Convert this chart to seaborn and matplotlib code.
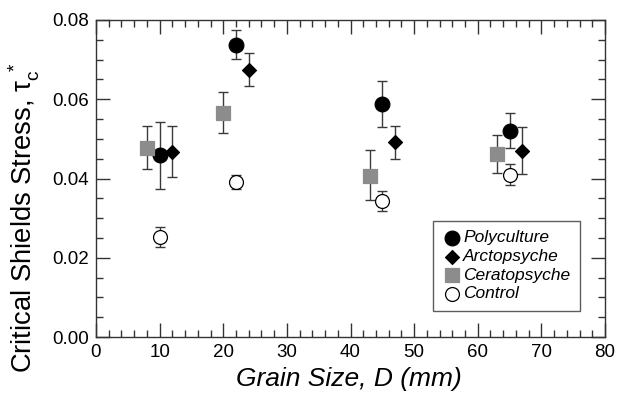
import numpy as np
import pandas as pd
import matplotlib
matplotlib.use("Agg")
import matplotlib.pyplot as plt
from matplotlib.ticker import MultipleLocator, FormatStrFormatter
import seaborn as sns

# Critical Shields stress by grain size for each treatment
poly_d = [10, 22, 45, 65]
poly_tau = [0.0459, 0.0737, 0.0589, 0.0521]
poly_lo = [0.0374, 0.0701, 0.0531, 0.0476]
poly_hi = [0.0542, 0.0774, 0.0647, 0.0566]

arcto_d = [12, 24, 47, 67]
arcto_tau = [0.0468, 0.0674, 0.0493, 0.0470]
arcto_lo = [0.0403, 0.0634, 0.0449, 0.0412]
arcto_hi = [0.0533, 0.0716, 0.0533, 0.0529]

cerato_d = [8, 20, 43, 63]
cerato_tau = [0.0478, 0.0565, 0.0407, 0.0463]
cerato_lo = [0.0424, 0.0514, 0.0346, 0.0413]
cerato_hi = [0.0532, 0.0618, 0.0472, 0.0510]

ctrl_d = [10, 22, 45, 65]
ctrl_tau = [0.0252, 0.0390, 0.0343, 0.0409]
ctrl_lo = [0.0227, 0.0373, 0.0318, 0.0383]
ctrl_hi = [0.0278, 0.0409, 0.0368, 0.0436]

groups = ["Polyculture", "Arctopsyche", "Ceratopsyche", "Control"]

frames = []
for name, d, t, lo, hi in [
    ("Polyculture", poly_d, poly_tau, poly_lo, poly_hi),
    ("Arctopsyche", arcto_d, arcto_tau, arcto_lo, arcto_hi),
    ("Ceratopsyche", cerato_d, cerato_tau, cerato_lo, cerato_hi),
    ("Control", ctrl_d, ctrl_tau, ctrl_lo, ctrl_hi),
]:
    frames.append(pd.DataFrame({"group": name, "D": d, "tau": t, "lo": lo, "hi": hi}))
df = pd.concat(frames, ignore_index=True)

sns.set_theme(style="ticks")
plt.rcParams["font.family"] = ["Liberation Sans", "DejaVu Sans"]
plt.rcParams["mathtext.fontset"] = "custom"
plt.rcParams["mathtext.rm"] = "Liberation Sans"
plt.rcParams["mathtext.it"] = "Liberation Sans:italic"
plt.rcParams["text.color"] = "black"
plt.rcParams["axes.labelcolor"] = "black"

fig = plt.figure(figsize=(6.18, 3.95), dpi=100)
ax = fig.add_axes([96 / 618, 1 - 337 / 395, (605 - 96) / 618, (337 - 20) / 395])

styles = {
    "Polyculture": dict(marker="o", color="black", edgecolor="black", s=112),
    "Arctopsyche": dict(marker="D", color="black", edgecolor="black", s=50),
    "Ceratopsyche": dict(marker="s", color="#8c8c8c", edgecolor="#8c8c8c", s=100),
    "Control": dict(marker="o", color="white", edgecolor="black", s=100),
}

for g in groups:
    sub = df[df["group"] == g]
    ax.errorbar(sub["D"], sub["tau"],
                yerr=[sub["tau"] - sub["lo"], sub["hi"] - sub["tau"]],
                fmt="none", ecolor="#3a3a3a", elinewidth=1.0, capsize=3.6,
                capthick=1.0, zorder=2)
    st = styles[g]
    sns.scatterplot(data=sub, x="D", y="tau", ax=ax, marker=st["marker"],
                    color=st["color"], edgecolor=st["edgecolor"], s=st["s"],
                    linewidth=0.9, zorder=3, label=g)

ax.set_xlim(0, 80)
ax.set_ylim(0, 0.08)
ax.xaxis.set_major_locator(MultipleLocator(10))
ax.xaxis.set_minor_locator(MultipleLocator(2))
ax.yaxis.set_major_locator(MultipleLocator(0.02))
ax.yaxis.set_minor_locator(MultipleLocator(0.005))
ax.yaxis.set_major_formatter(FormatStrFormatter("%.2f"))
ax.tick_params(which="both", direction="in", top=True, right=True,
               color="#333333", labelcolor="black", labelsize=13.5, pad=5)
ax.tick_params(which="major", length=10, width=1)
ax.tick_params(which="minor", length=5, width=1)
for sp in ax.spines.values():
    sp.set_color("#333333")
    sp.set_linewidth(1)

ax.set_xlabel("Grain Size, D (mm)", fontsize=19, fontstyle="italic")
ax.xaxis.set_label_coords(0.496, -0.095)
ax.set_ylabel(r"Critical Shields Stress, $\mathregular{\tau_c^{\ *}}$", fontsize=19.7)
ax.yaxis.set_label_coords(-0.106, 0.375)

leg = ax.legend(loc="lower right", bbox_to_anchor=(0.968, 0.055), frameon=True,
                fancybox=False, edgecolor="#333333",
                prop={"style": "italic", "size": 12.5},
                handletextpad=0.1, labelspacing=0.2, borderpad=0.55, handlelength=1.1)
leg.get_frame().set_linewidth(1)
for t in leg.get_texts():
    t.set_color("black")

fig.savefig("out.png", dpi=100)
